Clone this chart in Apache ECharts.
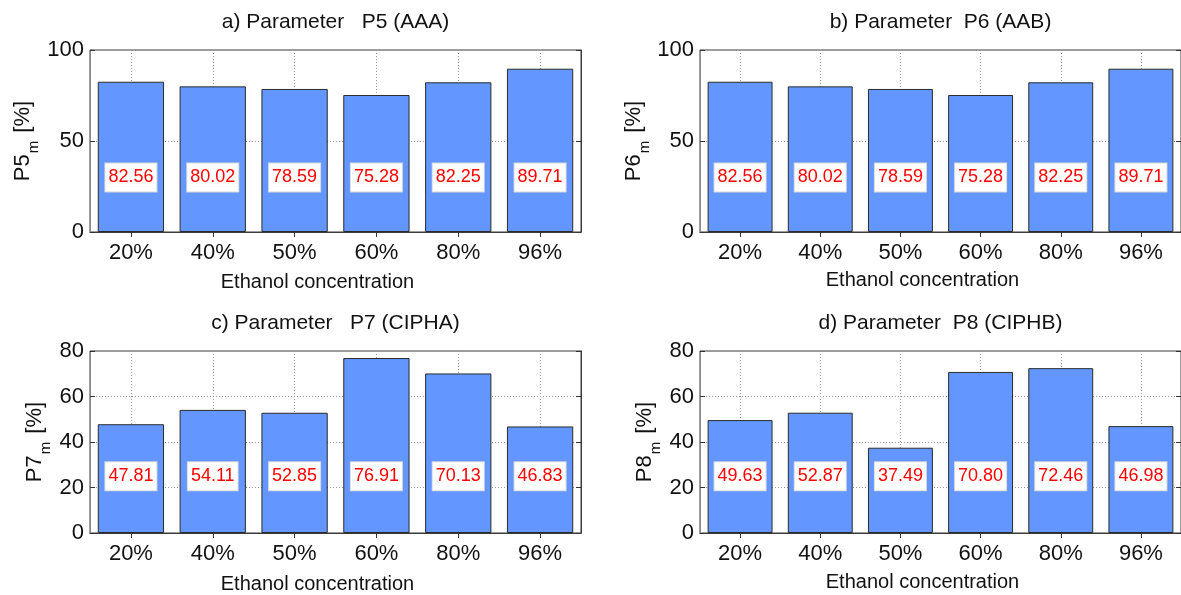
<!DOCTYPE html>
<html>
<head>
<meta charset="utf-8">
<script src="https://cdn.jsdelivr.net/npm/echarts@6/dist/echarts.min.js"></script>
<style>
  html, body { margin: 0; padding: 0; background: #ffffff; }
  #chart { width: 1181px; height: 595px; }
</style>
</head>
<body>
<div id="chart"></div>
<script>
// Ethanol concentrations on the x axis
const categories = ['20%', '40%', '50%', '60%', '80%', '96%'];

// Measured parameter values [%]
const p5Values = [82.56, 80.02, 78.59, 75.28, 82.25, 89.71];
const p6Values = [82.56, 80.02, 78.59, 75.28, 82.25, 89.71];
const p7Values = [47.81, 54.11, 52.85, 76.91, 70.13, 46.83];
const p8Values = [49.63, 52.87, 37.49, 70.80, 72.46, 46.98];

const panelTitles = [
  'a) Parameter   P5 (AAA)',
  'b) Parameter  P6 (AAB)',
  'c) Parameter   P7 (CIPHA)',
  'd) Parameter  P8 (CIPHB)'
];
const paramNames = ['P5', 'P6', 'P7', 'P8'];
const yMaxima = [100, 100, 80, 80];
const yIntervals = [50, 50, 20, 20];
// height (in axis units) at which the value boxes sit
const valueBoxLevels = [30, 30, 25, 25];

const panelValues = [p5Values, p6Values, p7Values, p8Values];

const FONT = '"Liberation Sans", Arial, Helvetica, sans-serif';
const TEXT = '#111111';

const grids = [
  { left: 90,  top: 50,  width: 491, height: 182 },
  { left: 700, top: 50,  width: 487, height: 182 },
  { left: 90,  top: 351, width: 491, height: 182 },
  { left: 700, top: 351, width: 487, height: 182 }
];
const yNameGaps = [52, 51, 40, 40];
const xNameGaps = [40, 38, 41, 39];

const option = {
  animation: false,
  backgroundColor: '#ffffff',
  textStyle: { fontFamily: FONT },
  grid: grids.map(g => Object.assign({
    show: true, borderColor: '#3a3a3a', borderWidth: 1,
    backgroundColor: 'transparent', containLabel: false
  }, g)),
  xAxis: [],
  yAxis: [],
  series: []
};

panelValues.forEach((values, i) => {
  // bottom category axis with labels and the x-axis title
  option.xAxis.push({
    type: 'category', gridIndex: i, position: 'bottom', data: categories,
    boundaryGap: true,
    axisLine: { show: true, lineStyle: { color: '#8a8a8a', width: 1 } },
    axisTick: { show: true, inside: true, alignWithLabel: true, length: 5,
                lineStyle: { color: '#333' } },
    axisLabel: { fontSize: 22, color: TEXT, margin: 10, fontFamily: FONT },
    splitLine: { show: true, alignWithLabel: true,
                 lineStyle: { color: '#9a9a9a', width: 1, type: [1, 2] } },
    name: 'Ethanol concentration', nameLocation: 'middle', nameGap: xNameGaps[i],
    nameTextStyle: { fontSize: 20, color: TEXT, fontFamily: FONT, padding: [0, 36, 0, 0] }
  });
  // top axis: tick marks and the panel title
  option.xAxis.push({
    type: 'category', gridIndex: i, position: 'top', data: categories,
    boundaryGap: true,
    axisLine: { show: true, lineStyle: { color: '#3a3a3a', width: 1 } },
    axisTick: { show: true, inside: true, alignWithLabel: true, length: 5,
                lineStyle: { color: '#333' } },
    axisLabel: { show: false },
    splitLine: { show: false },
    name: panelTitles[i], nameLocation: 'middle', nameGap: 17,
    nameTextStyle: { fontSize: 21, color: TEXT, fontFamily: FONT }
  });
  // left value axis
  option.yAxis.push({
    type: 'value', gridIndex: i, position: 'left',
    min: 0, max: yMaxima[i], interval: yIntervals[i],
    axisLine: { show: true, lineStyle: { color: '#8a8a8a', width: 1 } },
    axisTick: { show: true, inside: true, length: 5, lineStyle: { color: '#333' } },
    axisLabel: { fontSize: 22, color: TEXT, margin: 6, fontFamily: FONT },
    splitLine: { show: true, lineStyle: { color: '#9a9a9a', width: 1, type: [1, 2] } },
    name: '{a|' + paramNames[i] + '}{s|m}{a| [%]}',
    nameLocation: 'middle', nameRotate: 90, nameGap: yNameGaps[i],
    nameTextStyle: {
      color: TEXT, fontFamily: FONT,
      rich: {
        a: { fontSize: 22, lineHeight: 26, verticalAlign: 'top', color: TEXT, fontFamily: FONT },
        s: { fontSize: 15, lineHeight: 18, verticalAlign: 'top', padding: [14, 2, 0, 1],
             color: TEXT, fontFamily: FONT }
      }
    }
  });
  // right mirror axis: inner ticks only
  option.yAxis.push({
    type: 'value', gridIndex: i, position: 'right',
    min: 0, max: yMaxima[i], interval: yIntervals[i],
    axisLine: { show: true, lineStyle: { color: '#3a3a3a', width: 1 } },
    axisTick: { show: true, inside: true, length: 5, lineStyle: { color: '#333' } },
    axisLabel: { show: false },
    splitLine: { show: false }
  });

  option.series.push({
    type: 'bar', xAxisIndex: 2 * i, yAxisIndex: 2 * i,
    data: values,
    barCategoryGap: '19%',
    itemStyle: { color: '#6496FF', borderColor: '#2a2a2a', borderWidth: 1 },
    z: 2
  });

  // value boxes sitting at a fixed height inside each bar
  option.series.push({
    type: 'scatter', xAxisIndex: 2 * i, yAxisIndex: 2 * i,
    data: values.map((v, k) => [k, valueBoxLevels[i], v]),
    symbol: 'rect', symbolSize: 2,
    itemStyle: { color: 'rgba(255,255,255,0)' },
    z: 5,
    label: {
      show: true, position: 'inside', opacity: 1,
      formatter: p => p.value[2].toFixed(2),
      color: '#ff0000', fontSize: 18, fontFamily: FONT,
      backgroundColor: '#ffffff', borderColor: '#d8d8d8', borderWidth: 1,
      padding: [6, 3, 4, 3]
    },
    emphasis: { disabled: true }
  });
});

const chart = echarts.init(document.getElementById('chart'), null, { renderer: 'canvas' });
chart.setOption(option);
</script>
</body>
</html>
